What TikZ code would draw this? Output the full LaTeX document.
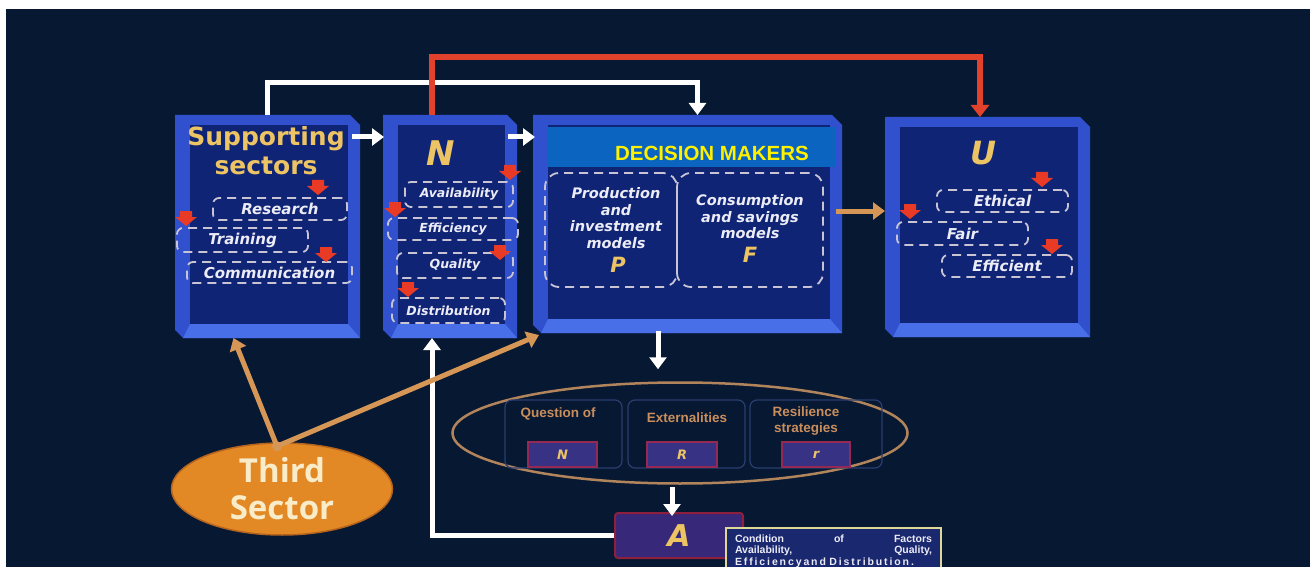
\documentclass[tikz,border=0pt]{standalone}
\usepackage{fontspec}
\setmainfont{Liberation Sans}
\newfontfamily\dvs{DejaVu Sans}
\newfontfamily\osans{Open Sans}
\usetikzlibrary{shapes.geometric,arrows.meta,calc}
\definecolor{bgc}{RGB}{7,24,50}
\definecolor{bevel}{RGB}{48,80,205}
\definecolor{bevelhi}{RGB}{72,110,232}
\definecolor{face}{RGB}{16,36,118}
\definecolor{dashc}{RGB}{200,196,212}
\definecolor{labtxt}{RGB}{236,236,246}
\definecolor{gold}{RGB}{236,196,100}
\definecolor{markred}{RGB}{232,58,36}
\definecolor{redarr}{RGB}{226,66,44}
\definecolor{orarr}{RGB}{214,150,86}
\definecolor{ellc}{RGB}{178,132,92}
\definecolor{tsfill}{RGB}{226,136,36}
\definecolor{tsdraw}{RGB}{180,100,30}
\definecolor{cream}{RGB}{250,236,200}
\definecolor{band}{RGB}{10,100,192}
\definecolor{bandtxt}{RGB}{255,240,0}
\definecolor{qline}{RGB}{42,62,112}
\definecolor{qtxt}{RGB}{202,142,92}
\definecolor{smfill}{RGB}{56,50,132}
\definecolor{smdraw}{RGB}{150,40,84}
\definecolor{afill}{RGB}{56,40,122}
\definecolor{adraw}{RGB}{140,32,62}
\definecolor{labfill}{RGB}{26,40,112}
\definecolor{labdraw}{RGB}{222,216,150}
\newcommand{\tdbox}[5]{%
  \node[boxframe, minimum width=#4pt, minimum height=#5pt] (#1) at (#2,#3) {};
  \fill[bevel] (#1.north west) -- ($(#1.north east)+(-10,0)$) -- ($(#1.north east)+(0,10)$)
     -- (#1.south east) -- ($(#1.south west)+(8,0)$) -- ($(#1.south west)+(0,-8)$) -- cycle;
  \fill[bevelhi] ($(#1.south west)+(8,0)$) -- (#1.south east) -- ($(#1.south east)+(-12,-14)$)
     -- ($(#1.south west)+(15,-14)$) -- cycle;
  \fill[face] ($(#1.north west)+(15,10)$) rectangle ($(#1.south east)+(-12,-14)$);
}
\begin{document}
\begin{tikzpicture}[x=1pt,y=-1pt,
  boxframe/.style={rectangle, draw=none, inner sep=0pt, outer sep=0pt},
  dbox/.style={rectangle, draw=dashc, line width=1.8pt, dash pattern=on 9pt off 6pt,
     rounded corners=6pt, text=labtxt, inner sep=0pt,
     font=\dvs\bfseries\itshape\fontsize{15}{18}\selectfont},
  nbox/.style={dbox, font=\dvs\bfseries\itshape\fontsize{12.5}{15}\selectfont},
  modtxt/.style={align=center, text=labtxt, inner sep=0pt,
     font=\dvs\bfseries\itshape\fontsize{14.5}{16.5}\selectfont},
  bigletter/.style={text=gold, inner sep=0pt, font=\dvs\bfseries\itshape\fontsize{34}{36}\selectfont},
  wa/.style={draw=white, line width=5pt, -{Triangle[length=12pt,width=17pt]}},
  ra/.style={draw=redarr, line width=6pt, -{Triangle[length=12pt,width=18pt]}},
  oa/.style={draw=orarr, line width=5pt, -{Triangle[length=12pt,width=17pt]}},
  qbox/.style={rectangle, draw=qline, line width=1.2pt, rounded corners=7pt, inner sep=0pt},
  qlab/.style={text=qtxt, align=center, inner sep=0pt, font=\bfseries\fontsize{13.5}{16}\selectfont},
  smbox/.style={rectangle, fill=smfill, draw=smdraw, line width=1.6pt, inner sep=0pt,
     minimum height=25pt, text=gold, font=\dvs\bfseries\itshape\fontsize{13}{15}\selectfont},
  redmark/.pic={\fill[markred] (-6,-8) -- (6,-8) -- (6,-2) -- (11,-2) -- (0,7) -- (-11,-2) -- (-6,-2) -- cycle;}
]
\useasboundingbox (0,0) rectangle (1315,567);
\fill[white] (0,0) rectangle (1315,567);
\fill[bgc] (6,9) rectangle (1310,567);

% 3D boxes
\tdbox{sup}{267.5}{226.5}{185}{223}
\tdbox{N}{450}{226.5}{134}{223}
\tdbox{dm}{687.5}{224}{309}{218}
\tdbox{U}{987.5}{227}{205}{220}

% Supporting sectors
\node[text=gold, align=center, inner sep=0pt, font=\dvs\bfseries\fontsize{25}{29}\selectfont]
  (suptitle) at (266,151) {Supporting\\sectors};
\node[dbox, minimum width=134pt, minimum height=22pt] (res) at (280,209) {Research};
\node[dbox, minimum width=131pt, minimum height=24pt] (tra) at (242.5,240) {Training};
\node[dbox, minimum width=165pt, minimum height=21pt] (com) at (269.5,272.5) {Communication};
\pic at (318,188) {redmark};
\pic at (186,219) {redmark};
\pic at (326,255) {redmark};

% N box
\node[bigletter] (Nl) at (441,153) {N};
\node[nbox, minimum width=108pt, minimum height=25pt] (ava) at (459,194.5) {Availability};
\node[nbox, minimum width=130pt, minimum height=22pt] (eff) at (453,229) {Efficiency};
\node[nbox, minimum width=116pt, minimum height=25pt] (qua) at (455,265.5) {Quality};
\node[nbox, minimum width=113pt, minimum height=25pt] (dis) at (448.5,310.5) {Distribution};
\pic at (510,173) {redmark};
\pic at (395,210) {redmark};
\pic at (500,253) {redmark};
\pic at (408,290) {redmark};

% Decision makers
\node[rectangle, fill=band, inner sep=0pt, minimum width=287pt, minimum height=40pt] (bandn) at (691.5,147) {};
\node[text=bandtxt, inner sep=0pt, font=\bfseries\fontsize{20.5}{24}\selectfont] (dmt) at (712,153) {DECISION MAKERS};
\node[dbox, rounded corners=14pt, minimum width=132pt, minimum height=114pt] (pbox) at (611,230) {};
\node[dbox, rounded corners=14pt, minimum width=146pt, minimum height=114pt] (fbox) at (750,230) {};
\node[modtxt] (ptxt) at (616,218) {Production\\and\\investment\\models};
\node[text=gold, inner sep=0pt, font=\dvs\bfseries\itshape\fontsize{21}{24}\selectfont] (pl) at (618,265) {P};
\node[modtxt] (ftxt) at (750,217) {Consumption\\and savings\\models};
\node[text=gold, inner sep=0pt, font=\dvs\bfseries\itshape\fontsize{21}{24}\selectfont] (fl) at (750,255) {F};

% U box
\node[bigletter, font=\dvs\bfseries\itshape\fontsize{32}{34}\selectfont] (Ul) at (983,153) {U};
\node[dbox, minimum width=131pt, minimum height=22pt] (eth) at (1002.5,201) {Ethical};
\node[dbox, minimum width=131pt, minimum height=23pt] (fai) at (962.5,233.5) {Fair};
\node[dbox, minimum width=130pt, minimum height=22pt] (efi) at (1007,266) {Efficient};
\pic at (1042,180) {redmark};
\pic at (910,212) {redmark};
\pic at (1052,247) {redmark};

% ellipse of questions
\node[ellipse, draw=ellc, line width=2.5pt, inner sep=0pt, minimum width=455pt, minimum height=101pt] (ell) at (680,433) {};
\node[qbox, minimum width=117pt, minimum height=68pt] (q1) at (563.5,434) {};
\node[qbox, minimum width=117pt, minimum height=68pt] (q2) at (686.5,434) {};
\node[qbox, minimum width=132pt, minimum height=68pt] (q3) at (816,434) {};
\node[qlab] (q1t) at (558,414) {Question of};
\node[qlab] (q2t) at (687,418) {Externalities};
\node[qlab] (q3t) at (806,421) {Resilience\\strategies};
\node[smbox, minimum width=69pt] (sN) at (562.5,454.5) {N};
\node[smbox, minimum width=70pt] (sR) at (682,454.5) {R};
\node[smbox, minimum width=68pt] (sr) at (816,454.5) {r};

% A box and its label
\node[rectangle, fill=afill, draw=adraw, line width=2pt, rounded corners=3pt, inner sep=0pt,
  minimum width=128pt, minimum height=45pt, text=gold,
  font=\dvs\bfseries\itshape\fontsize{30}{32}\selectfont] (A) at (679,535.5) {A};
\node[rectangle, anchor=north west, fill=labfill, draw=labdraw, line width=2pt, inner xsep=9pt, inner ysep=4pt,
  minimum width=215pt, minimum height=46pt, text width=197pt, align=left, text=labtxt,
  font=\bfseries\fontsize{10.5}{11.5}\selectfont] (cond) at (725,527)
  {Condition\hfill of\hfill Factors\\Availability,\hfill Quality,\\{\addfontfeature{LetterSpace=18}Efficiencyand Distribution.}};

% Third sector
\node[ellipse, fill=tsfill, draw=tsdraw, line width=1.5pt, inner sep=0pt, minimum width=221pt, minimum height=92pt,
  align=center, text=cream, font=\osans\bfseries\fontsize{33}{37}\selectfont] (ts) at (282,489) {Third\\Sector};
\coordinate (tsTop) at ($(ts.north)+(-5,4)$);

% connectors
\draw[wa] ($(sup.north east)+(-8,22)$) -- ($(N.north west)+(1,22)$);
\draw[wa] ($(N.north east)+(-9,22)$) -- ($(dm.north west)+(2,22)$);
\draw[wa] (sup.north) -- ++(0,-32) -| ([xshift=10pt]dm.north);
\draw[ra] ([xshift=-18pt]N.north) -- ++(0,-58) -| ([xshift=-7.5pt]U.north);
\draw[oa] ([xshift=-6pt,yshift=13pt]dm.east) -- ([yshift=16pt]U.west);
\draw[wa] ([xshift=-29.5pt,yshift=2pt]dm.south) -- ([xshift=-22pt,yshift=12pt]ell.north);
\draw[wa] ([xshift=-8pt,yshift=-2pt]ell.south) -- ([xshift=-7pt,yshift=-4pt]A.north);
\draw[wa] (A.west) -| ([xshift=-18pt]N.south);
\draw[oa] (tsTop) -- ([xshift=-34pt]sup.south);
\draw[oa] (tsTop) -- ($(dm.south west)+(6,2)$);
\fill[orarr] (tsTop) circle (5pt);
\end{tikzpicture}
\end{document}
